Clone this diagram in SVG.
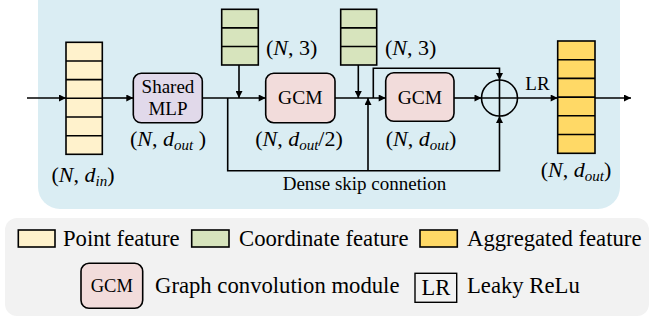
<svg xmlns="http://www.w3.org/2000/svg" width="651" height="321" viewBox="0 0 651 321">
<defs>
<marker id="arr" viewBox="0 0 10 10" refX="10" refY="5" markerWidth="9" markerHeight="7" markerUnits="userSpaceOnUse" orient="auto">
<path d="M0,0 L10,5 L0,10 z" fill="#000"/>
</marker>
</defs>
<style>
text{font-family:"Liberation Serif","Times New Roman",serif;fill:#000}
.lbl{font-size:22px}
.it{font-style:italic}
.sub{font-size:15px;font-style:italic}
.cell{stroke:#000;stroke-width:1.6}
.box{stroke:#000;stroke-width:1.6}
.con{fill:none;stroke:#000;stroke-width:1.6}
.pt{fill:#fff2cc}
.co{fill:#d7e4bd}
.ag{fill:#ffd966}
.gcm{fill:#f2dcdb}
.mlp{fill:#e1d9ea}
.leg{font-size:22.7px}
</style>
<rect x="38" y="-20" width="582" height="229" rx="22" fill="#daedf3"/>
<rect x="5" y="218" width="644" height="98" rx="12" fill="#f2f2f2"/>

<g id="point-feature">
<rect class="cell pt" x="66" y="42.3" width="36.3" height="112"/>
<path class="cell" d="M66,61 H102.3 M66,79.6 H102.3 M66,98.3 H102.3 M66,117 H102.3 M66,135.7 H102.3"/>
<text class="lbl" x="83" y="182" text-anchor="middle">(<tspan class="it">N</tspan>, <tspan class="it">d</tspan><tspan class="sub" dy="4">in</tspan><tspan dy="-4">)</tspan></text>
</g>

<g id="shared-mlp">
<rect class="box mlp" x="133.3" y="73.3" width="69" height="49.5" rx="8"/>
<text x="168" y="93" font-size="19" text-anchor="middle">Shared</text>
<text x="168" y="115" font-size="19" text-anchor="middle">MLP</text>
<text class="lbl" x="168" y="146" text-anchor="middle">(<tspan class="it">N</tspan>, <tspan class="it">d</tspan><tspan class="sub" dy="4">out</tspan><tspan dy="-4"> )</tspan></text>
</g>

<g id="coord-feature-1">
<rect class="cell co" x="221.7" y="9.3" width="36.6" height="55.7"/>
<path class="cell" d="M221.7,27.9 H258.3 M221.7,46.5 H258.3"/>
<text class="lbl" x="266" y="55">(<tspan class="it">N</tspan>, 3)</text>
</g>

<g id="gcm-1">
<rect class="box gcm" x="265.7" y="73.3" width="69.3" height="49.4" rx="8"/>
<text x="300.3" y="104" font-size="19.5" text-anchor="middle">GCM</text>
<text class="lbl" x="299" y="146" text-anchor="middle">(<tspan class="it">N</tspan>, <tspan class="it">d</tspan><tspan class="sub" dy="4">out</tspan><tspan dy="-4">/2)</tspan></text>
</g>

<g id="coord-feature-2">
<rect class="cell co" x="340.7" y="9.3" width="36" height="55.7"/>
<path class="cell" d="M340.7,27.9 H376.7 M340.7,46.5 H376.7"/>
<text class="lbl" x="385" y="55">(<tspan class="it">N</tspan>, 3)</text>
</g>

<g id="gcm-2">
<rect class="box gcm" x="385.7" y="72.8" width="68.3" height="48.5" rx="8"/>
<text x="420" y="103.5" font-size="19.5" text-anchor="middle">GCM</text>
<text class="lbl" x="421" y="146" text-anchor="middle">(<tspan class="it">N</tspan>, <tspan class="it">d</tspan><tspan class="sub" dy="4">out</tspan><tspan dy="-4">)</tspan></text>
</g>

<g id="sum">
<circle cx="499.5" cy="98" r="18" fill="none" stroke="#000" stroke-width="1.6"/>
<path class="con" d="M481.5,98 H517.5 M499.5,80 V116"/>
</g>

<g id="aggregated-feature">
<rect class="cell ag" x="557.7" y="41" width="37.3" height="112.3"/>
<path class="cell" d="M557.7,59.7 H595 M557.7,78.4 H595 M557.7,97.1 H595 M557.7,115.8 H595 M557.7,134.5 H595"/>
<text class="lbl" x="576" y="177" text-anchor="middle">(<tspan class="it">N</tspan>, <tspan class="it">d</tspan><tspan class="sub" dy="4">out</tspan><tspan dy="-4">)</tspan></text>
</g>

<g id="connectors">
<path class="con" d="M27,98 H66" marker-end="url(#arr)"/>
<path class="con" d="M102.3,98 H133.3" marker-end="url(#arr)"/>
<path class="con" d="M202.3,98 H265.7" marker-end="url(#arr)"/>
<path class="con" d="M239,65 V98" marker-end="url(#arr)"/>
<path class="con" d="M227.7,98 V170.7 H499.5 V116" marker-end="url(#arr)"/>
<path class="con" d="M368,170.7 V98" marker-end="url(#arr)"/>
<path class="con" d="M335,98 H385.7" marker-end="url(#arr)"/>
<path class="con" d="M358.3,65 V98" marker-end="url(#arr)"/>
<path class="con" d="M373.3,98 V68.3 H499.5 V80" marker-end="url(#arr)"/>
<path class="con" d="M454,98 H481.5" marker-end="url(#arr)"/>
<path class="con" d="M517.5,98 H557.7" marker-end="url(#arr)"/>
<path class="con" d="M595,98 H631" marker-end="url(#arr)"/>
<text x="537.5" y="90" font-size="19" text-anchor="middle">LR</text>
<text x="364.5" y="189.5" font-size="19" text-anchor="middle">Dense skip connetion</text>
</g>

<g id="legend">
<rect class="box pt" x="18.3" y="230" width="36.7" height="17"/>
<text class="leg" x="63" y="245.5">Point feature</text>
<rect class="box co" x="191.7" y="230" width="37.3" height="17"/>
<text class="leg" x="239" y="245.5">Coordinate feature</text>
<rect class="box ag" x="420" y="230" width="37.3" height="17"/>
<text class="leg" x="467" y="245.5">Aggregated feature</text>
<rect class="box gcm" x="81" y="263.3" width="61.7" height="45" rx="8"/>
<text x="111.8" y="292" font-size="18.5" text-anchor="middle">GCM</text>
<text class="leg" x="155" y="293">Graph convolution module</text>
<rect x="415" y="273.3" width="41.7" height="29" fill="none" stroke="#000" stroke-width="1.4"/>
<text x="435.8" y="295" font-size="22.5" text-anchor="middle">LR</text>
<text class="leg" x="467" y="293">Leaky ReLu</text>
</g>
</svg>
